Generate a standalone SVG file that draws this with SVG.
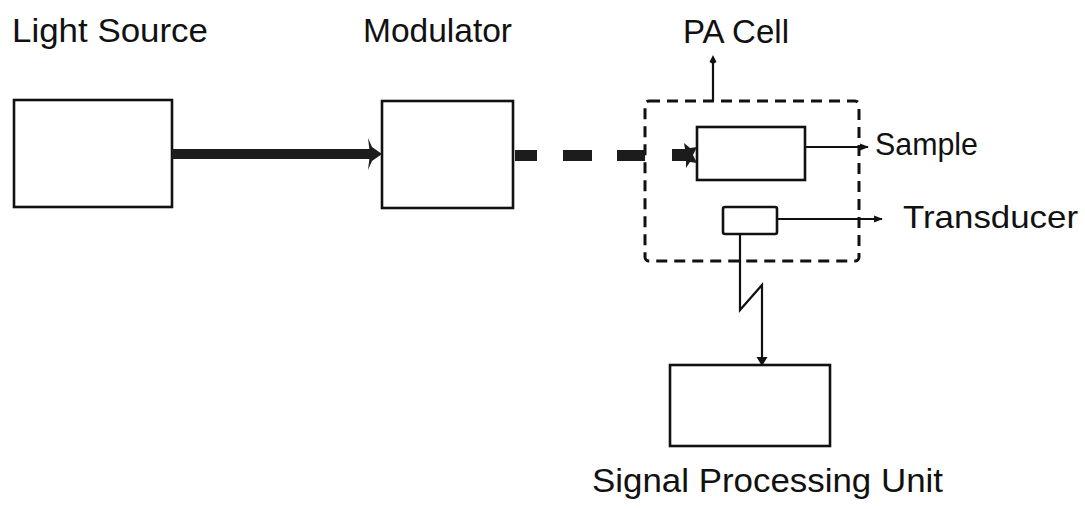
<svg xmlns="http://www.w3.org/2000/svg" width="1085" height="509" viewBox="0 0 1085 509">
<defs>
<style>
.box{fill:#fff;stroke:#111;stroke-width:2.6}
.ln{fill:none;stroke:#111;stroke-width:2.2}
.lbl{font-family:"Liberation Sans",Arial,sans-serif;font-size:33px;fill:#111}
.beam{fill:#1c1c1c}
</style>
<marker id="ah" viewBox="0 0 10 10" refX="9" refY="5" markerWidth="4" markerHeight="4" orient="auto" markerUnits="strokeWidth">
<path d="M0,1 L10,5 L0,9 Z" fill="#111"/>
</marker>
</defs>
<rect width="1085" height="509" fill="#fff"/>

<g id="light-source">
<rect class="box" x="14" y="100" width="158" height="107"/>
<text class="lbl" x="12" y="42" textLength="196" lengthAdjust="spacingAndGlyphs">Light Source</text>
</g>

<g id="modulator">
<rect class="box" x="382" y="101" width="131" height="107"/>
<text class="lbl" x="363" y="42" textLength="149" lengthAdjust="spacingAndGlyphs">Modulator</text>
</g>

<g id="pa-cell">
<rect x="645" y="101" width="214" height="160" rx="4" fill="none" stroke="#111" stroke-width="3" stroke-dasharray="11 7"/>
<text class="lbl" x="683" y="43" textLength="106" lengthAdjust="spacingAndGlyphs">PA Cell</text>
</g>

<g id="sample">
<rect class="box" x="697" y="127" width="108" height="53"/>
<text class="lbl" x="875" y="155" style="font-size:32px" textLength="103" lengthAdjust="spacingAndGlyphs">Sample</text>
</g>

<g id="transducer">
<rect class="box" x="723" y="207" width="54" height="27" rx="2"/>
<text class="lbl" x="903" y="228" style="font-size:32px" textLength="175" lengthAdjust="spacingAndGlyphs">Transducer</text>
</g>

<g id="signal-processing-unit">
<rect class="box" x="670" y="365" width="160" height="81"/>
<text class="lbl" x="592" y="492" textLength="351" lengthAdjust="spacingAndGlyphs">Signal Processing Unit</text>
</g>

<g id="connectors">
<!-- light beam source -> modulator -->
<rect class="beam" x="172" y="149" width="200" height="10"/>
<path class="beam" d="M368,138 L372,147 L382,154 L372,161 L368,170 L370,154 Z"/>
<!-- modulated dashed beam -> sample -->
<rect class="beam" x="515" y="150" width="22" height="11"/>
<rect class="beam" x="563" y="150" width="29" height="11"/>
<rect class="beam" x="617" y="150" width="28" height="11"/>
<rect class="beam" x="672" y="149" width="16" height="12"/>
<path class="beam" d="M684,143 L690,148 L697,147 L693,155 L697,163 L690,162 L686,168 L686,155 Z"/>
<!-- PA cell up arrow -->
<line class="ln" x1="713" y1="101" x2="713" y2="60"/>
<path d="M713,55 L716.5,62 L713,64 L709.5,62 Z" fill="#111"/>
<!-- sample label pointer -->
<line class="ln" x1="805" y1="147" x2="868" y2="147" marker-end="url(#ah)"/>
<!-- transducer label pointer -->
<line class="ln" x1="777" y1="219" x2="882" y2="219" marker-end="url(#ah)"/>
<!-- transducer -> signal processing unit (zigzag) -->
<polyline class="ln" points="740,234 740,310 762,285 762,359"/>
<path d="M762,366 L756.5,357 L767.5,357 Z" fill="#111"/>
</g>
</svg>
